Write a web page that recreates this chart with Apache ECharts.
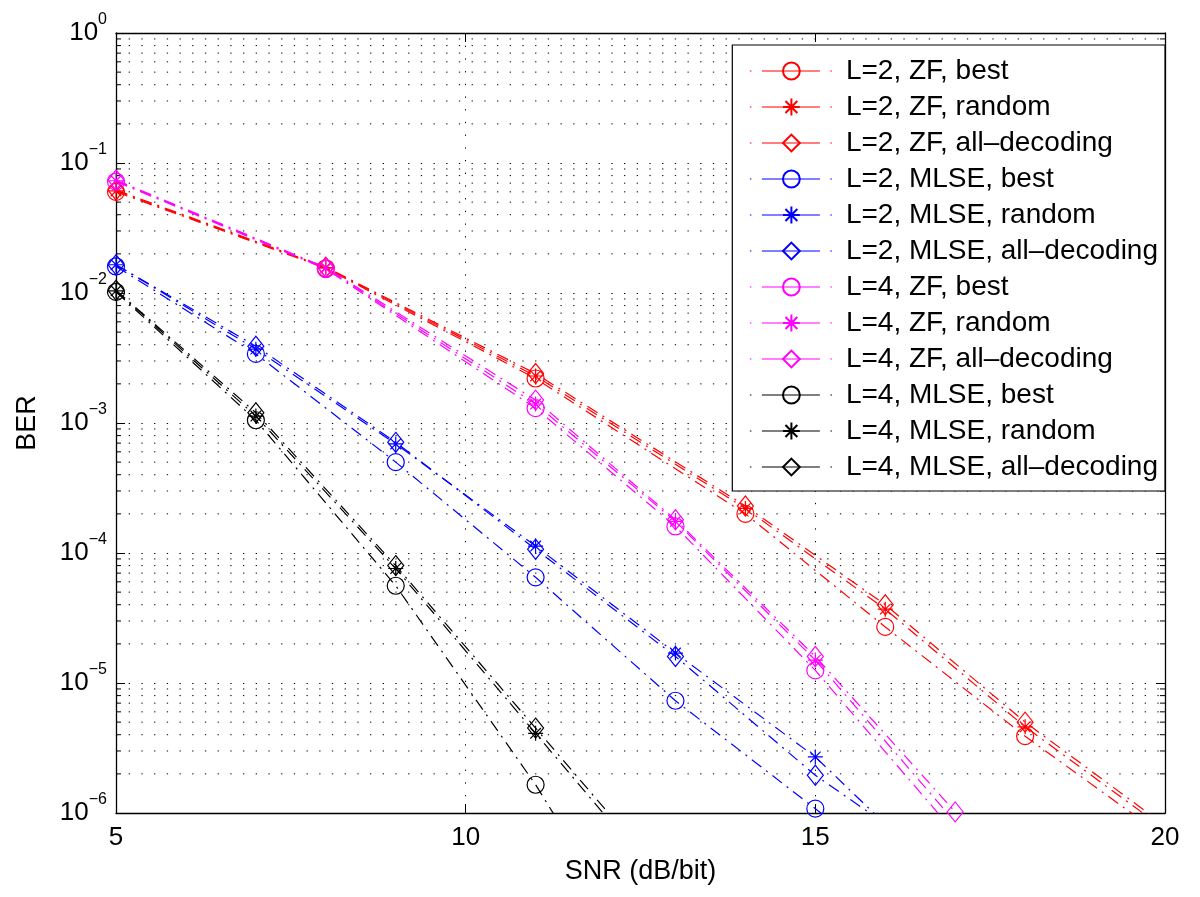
<!DOCTYPE html>
<html>
<head>
<meta charset="utf-8">
<script src="https://cdn.jsdelivr.net/npm/echarts@6/dist/echarts.min.js"></script>
<style>
html,body{margin:0;padding:0;background:#fff;}
#chart{width:1200px;height:897px;}
</style>
</head>
<body>
<div id="chart"></div>
<script>
// ---- Data ----
const xL2ZF = [5, 8, 11, 14, 16, 18, 20];
const l2zfBest   = [0.060, 0.0155, 0.0022, 2.0e-4, 2.7e-5, 3.9e-6, 6.5e-7];
const l2zfRandom = [0.061, 0.0157, 0.0023, 2.2e-4, 3.7e-5, 4.6e-6, 7.5e-7];
const l2zfAll    = [0.062, 0.0158, 0.0024, 2.3e-4, 4.0e-5, 5.0e-6, 8.0e-7];

const xL2ML = [5, 7, 9, 11, 13, 15, 17];
const l2mlBest   = [0.0160, 0.0034, 5.0e-4, 6.5e-5, 7.3e-6, 1.08e-6, 1.6e-7];
const l2mlRandom = [0.0165, 0.0037, 6.9e-4, 1.13e-4, 1.7e-5, 2.7e-6, 2.5e-7];
const l2mlAll    = [0.0165, 0.0039, 7.1e-4, 1.07e-4, 1.6e-5, 1.95e-6, 3.5e-7];

const xL4ZF = [5, 8, 11, 13, 15, 17];
const l4zfBest   = [0.072, 0.0153, 0.0013, 1.6e-4, 1.25e-5, 7.0e-7];
const l4zfRandom = [0.073, 0.0155, 0.0014, 1.75e-4, 1.5e-5, 8.5e-7];
const l4zfAll    = [0.074, 0.0157, 0.0015, 1.8e-4, 1.6e-5, 1.02e-6];

const xL4ML = [5, 7, 9, 11, 13];
const l4mlBest   = [0.0102, 0.00105, 5.6e-5, 1.65e-6, 3e-8];
const l4mlRandom = [0.0104, 0.00113, 7.6e-5, 4.1e-6, 2.2e-7];
const l4mlAll    = [0.0105, 0.0012, 8.0e-5, 4.5e-6, 2.5e-7];

const seriesNames = [
  'L=2, ZF, best', 'L=2, ZF, random', 'L=2, ZF, all\u2013decoding',
  'L=2, MLSE, best', 'L=2, MLSE, random', 'L=2, MLSE, all\u2013decoding',
  'L=4, ZF, best', 'L=4, ZF, random', 'L=4, ZF, all\u2013decoding',
  'L=4, MLSE, best', 'L=4, MLSE, random', 'L=4, MLSE, all\u2013decoding'
];
const xTicks = [5, 10, 15, 20];
const minorMantissas = [2, 3, 4, 5, 6, 7, 8, 9];
const decades = [-6, -5, -4, -3, -2, -1];

// ---- Styling ----
const FONT = 'Liberation Sans';
const colors = {red: '#ff0000', blue: '#0000ff', magenta: '#ff00ff', black: '#000000'};
const ASTERISK = 'path://M0,-10L0,10M-10,0L10,0M-7.07,-7.07L7.07,7.07M-7.07,7.07L7.07,-7.07';
const markerDefs = {
  best: {symbol: 'circle', size: 17},
  random: {symbol: ASTERISK, size: 15},
  all: {symbol: 'diamond', size: [16, 20]}
};

function zip(xs, ys) { return xs.map((x, i) => [x, ys[i]]); }

function mkSeries(name, xs, ys, color, kind) {
  const m = markerDefs[kind];
  return {
    name: name,
    type: 'line',
    data: zip(xs, ys),
    symbol: m.symbol,
    symbolSize: m.size,
    showAllSymbol: true,
    clip: true,
    z: 3,
    lineStyle: {color: color, width: 1.2, type: [12, 6, 2, 6]},
    itemStyle: {color: 'rgba(0,0,0,0)', borderColor: color, borderWidth: 1.2},
    emphasis: {disabled: true}
  };
}

const lineSeries = [
  mkSeries(seriesNames[0], xL2ZF, l2zfBest, colors.red, 'best'),
  mkSeries(seriesNames[1], xL2ZF, l2zfRandom, colors.red, 'random'),
  mkSeries(seriesNames[2], xL2ZF, l2zfAll, colors.red, 'all'),
  mkSeries(seriesNames[3], xL2ML, l2mlBest, colors.blue, 'best'),
  mkSeries(seriesNames[4], xL2ML, l2mlRandom, colors.blue, 'random'),
  mkSeries(seriesNames[5], xL2ML, l2mlAll, colors.blue, 'all'),
  mkSeries(seriesNames[6], xL4ZF, l4zfBest, colors.magenta, 'best'),
  mkSeries(seriesNames[7], xL4ZF, l4zfRandom, colors.magenta, 'random'),
  mkSeries(seriesNames[8], xL4ZF, l4zfAll, colors.magenta, 'all'),
  mkSeries(seriesNames[9], xL4ML, l4mlBest, colors.black, 'best'),
  mkSeries(seriesNames[10], xL4ML, l4mlRandom, colors.black, 'random'),
  mkSeries(seriesNames[11], xL4ML, l4mlAll, colors.black, 'all')
];

const minorVals = [];
decades.forEach(d => minorMantissas.forEach(m => minorVals.push(m * Math.pow(10, d))));

const DOT = [1.3, 11.4];

const minorGrid = {
  type: 'custom',
  silent: true,
  z: 1,
  clip: false,
  data: minorVals.map(v => [xTicks[0], v]),
  encode: {x: 0, y: 1},
  renderItem: function (params, api) {
    const cs = params.coordSys;
    const y = api.coord([xTicks[0], api.value(1)])[1];
    const x1 = cs.x, x2 = cs.x + cs.width;
    return {
      type: 'group',
      children: [
        {type: 'line', shape: {x1: x1, y1: y, x2: x2, y2: y}, style: {stroke: '#000', lineWidth: 1, lineDash: DOT}},
        {type: 'line', shape: {x1: x1, y1: y, x2: x1 + 5, y2: y}, style: {stroke: '#000', lineWidth: 1}},
        {type: 'line', shape: {x1: x2 - 5, y1: y, x2: x2, y2: y}, style: {stroke: '#000', lineWidth: 1}}
      ]
    };
  }
};

const yLabel = {
  margin: 9,
  formatter: function (v) {
    const e = Math.round(Math.log10(v));
    return '{b|10}{s|' + (e < 0 ? '\u2212' + (-e) : e) + '}';
  },
  rich: {
    b: {fontSize: 26, fontFamily: FONT, color: '#000'},
    s: {fontSize: 16, fontFamily: FONT, color: '#000', padding: [0, 0, 26, 0]}
  }
};

const chart = echarts.init(document.getElementById('chart'), null, {renderer: 'canvas'});
chart.setOption({
  animation: false,
  backgroundColor: '#fff',
  grid: {left: 116, right: 35, top: 33, bottom: 84, containLabel: false},
  xAxis: [{
    type: 'value', min: xTicks[0], max: xTicks[xTicks.length - 1], interval: 5,
    position: 'bottom',
    name: 'SNR (dB/bit)', nameLocation: 'middle', nameGap: 45,
    nameTextStyle: {fontSize: 27, fontFamily: FONT, color: '#000'},
    axisLine: {show: true, onZero: false, lineStyle: {color: '#000', width: 1.3}},
    axisTick: {show: true, inside: true, length: 9, lineStyle: {color: '#000'}},
    axisLabel: {fontSize: 26, fontFamily: FONT, color: '#000', margin: 12},
    splitLine: {show: true, lineStyle: {color: '#000', width: 1, type: DOT}}
  }, {
    type: 'value', min: xTicks[0], max: xTicks[xTicks.length - 1], interval: 5,
    position: 'top',
    axisLine: {show: true, onZero: false, lineStyle: {color: '#000', width: 1.3}},
    axisTick: {show: true, inside: true, length: 9, lineStyle: {color: '#000'}},
    axisLabel: {show: false},
    splitLine: {show: false}
  }],
  yAxis: [{
    type: 'log', logBase: 10, min: 1e-6, max: 1, splitNumber: 6,
    position: 'left',
    name: 'BER', nameLocation: 'middle', nameGap: 75, nameRotate: 90,
    nameTextStyle: {fontSize: 27, fontFamily: FONT, color: '#000'},
    axisLine: {show: true, onZero: false, lineStyle: {color: '#000', width: 1.3}},
    axisTick: {show: true, inside: true, length: 9, lineStyle: {color: '#000'}},
    axisLabel: yLabel,
    minorTick: {show: false},
    splitLine: {show: true, lineStyle: {color: '#000', width: 1, type: DOT}}
  }, {
    type: 'log', logBase: 10, min: 1e-6, max: 1, splitNumber: 6,
    position: 'right',
    axisLine: {show: true, onZero: false, lineStyle: {color: '#000', width: 1.3}},
    axisTick: {show: true, inside: true, length: 9, lineStyle: {color: '#000'}},
    axisLabel: {show: false},
    splitLine: {show: false}
  }],
  legend: {
    data: seriesNames,
    orient: 'vertical',
    right: 35, top: 45,
    padding: [12, 7, 10, 17],
    itemGap: 8,
    itemWidth: 83,
    itemHeight: 21,
    selectedMode: false,
    backgroundColor: '#fff',
    borderColor: '#000',
    borderWidth: 1.2,
    borderRadius: 0,
    lineStyle: {type: [1.5, 10.5, 58, 10.5], width: 1.2},
    textStyle: {fontSize: 28, fontFamily: FONT, color: '#000', lineHeight: 26, padding: [0, 0, 0, 8]}
  },
  series: [minorGrid].concat(lineSeries)
});
</script>
</body>
</html>
